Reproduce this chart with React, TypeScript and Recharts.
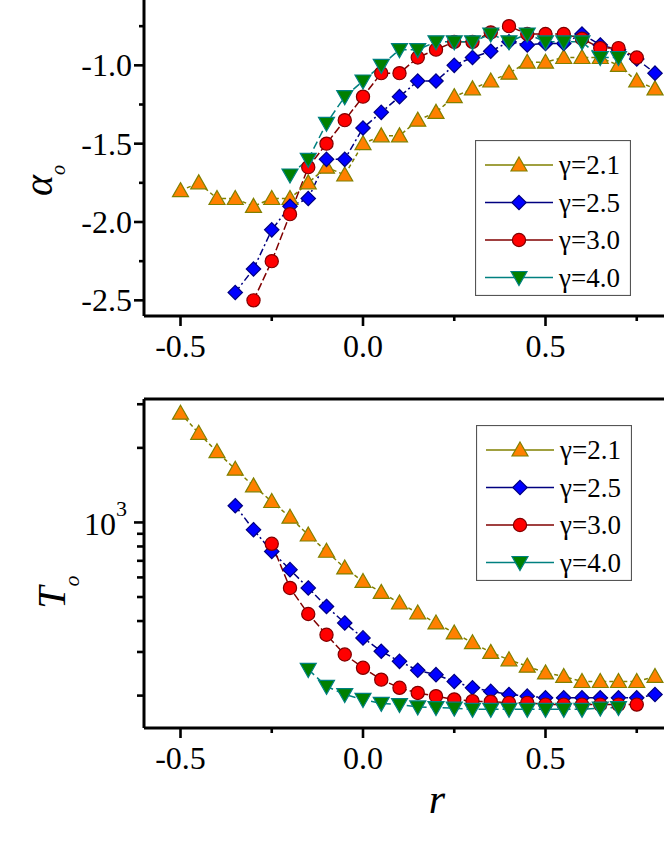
import { LineChart, Line, XAxis, YAxis, ReferenceLine, Legend } from 'recharts';

// r grid shared by all series (each series starts at some index of it)
const R = [-0.5, -0.45, -0.4, -0.35, -0.3, -0.25, -0.2, -0.15, -0.1, -0.05, 0, 0.05, 0.1, 0.15, 0.2, 0.25, 0.3, 0.35, 0.4, 0.45, 0.5, 0.55, 0.6, 0.65, 0.7, 0.75, 0.8];

const NAMES = ['γ=2.1', 'γ=2.5', 'γ=3.0', 'γ=4.0'];

// upper panel: alpha_o
const ALPHA_21 = [-1.8, -1.75, -1.85, -1.85, -1.9, -1.85, -1.85, -1.75, -1.65, -1.7, -1.5, -1.45, -1.45, -1.35, -1.3, -1.2, -1.15, -1.1, -1.05, -0.98, -0.98, -0.95, -0.95, -0.95, -1.0, -1.1, -1.15];
const ALPHA_25 = [-2.45, -2.3, -2.05, -1.9, -1.85, -1.6, -1.6, -1.4, -1.3, -1.2, -1.1, -1.1, -1.0, -0.95, -0.91, -0.85, -0.87, -0.86, -0.86, -0.8, -0.87, -0.9, -0.96, -1.05];
const ALPHA_30 = [-2.5, -2.25, -1.95, -1.65, -1.5, -1.35, -1.2, -1.05, -1.05, -0.95, -0.9, -0.85, -0.85, -0.79, -0.75, -0.8, -0.8, -0.8, -0.83, -0.89, -0.89, -0.95];
const ALPHA_40 = [-1.7, -1.6, -1.37, -1.2, -1.1, -1.0, -0.9, -0.9, -0.85, -0.85, -0.85, -0.8, -0.85, -0.8, -0.85, -0.85, -0.85, -0.95, -0.95];
const ALPHA_START = [0, 3, 4, 6];

// lower panel: T_o (log axis)
const T_21 = [2760, 2290, 1930, 1640, 1405, 1215, 1050, 890, 765, 655, 578, 522, 473, 431, 393, 358, 327, 299, 279, 263, 247, 239, 228, 228, 228, 228, 239];
const T_25 = [1168, 935, 764, 645, 544, 458, 393, 342, 302, 275, 253, 243, 228, 215, 208, 202, 199, 196, 196, 196, 196, 196, 196, 202];
const T_30 = [820, 544, 427, 352, 293, 259, 232, 215, 205, 199, 193, 190, 189, 187, 187, 184, 184, 184, 184, 184, 184];
const T_40 = [255, 218, 202, 193, 186, 184, 180, 179, 178, 176, 176, 176, 176, 176, 176, 176, 178, 179];
const T_START = [0, 3, 5, 7];

const X_TICKS = [-0.5, -0.25, 0, 0.25, 0.5, 0.75, 1.0];
const X_LABELS = [-0.5, 0, 0.5];
const ALPHA_TICKS = [-2.5, -2.25, -2.0, -1.75, -1.5, -1.25, -1.0, -0.75, -0.5];
const ALPHA_LABELS = [-2.5, -2.0, -1.5, -1.0];
const T_TICKS = [200, 300, 400, 500, 600, 700, 800, 900, 1000, 2000, 3000];

const STYLES = [
  { kind: 'up', fill: '#FF8000', stroke: '#808000', dash: '4 3' },
  { kind: 'diamond', fill: '#0000FF', stroke: '#000080', dash: '7 3 2 3' },
  { kind: 'circle', fill: '#FF0000', stroke: '#800000', dash: '8 3' },
  { kind: 'down', fill: '#008000', stroke: '#008080', dash: '8 4' },
];

const FONT = 'Liberation Serif, serif';
const txt = { fontFamily: FONT, fill: '#000' };

const zip = (start: number, vals: number[]) => vals.map((v, i) => ({ r: R[start + i], v }));

function Marker({ cx, cy, kind, fill, stroke }: any) {
  if (cx == null || cy == null) return null;
  const common = { fill, stroke, strokeWidth: 1.2 };
  if (kind === 'circle') return <circle cx={cx} cy={cy} r={6.6} {...common} />;
  if (kind === 'diamond')
    return <polygon points={`${cx},${cy - 7.2} ${cx + 7.2},${cy} ${cx},${cy + 7.2} ${cx - 7.2},${cy}`} {...common} />;
  if (kind === 'up')
    return <polygon points={`${cx},${cy - 8} ${cx + 8},${cy + 6} ${cx - 8},${cy + 6}`} {...common} />;
  return <polygon points={`${cx},${cy + 8} ${cx + 8},${cy - 6} ${cx - 8},${cy - 6}`} {...common} />;
}

const isHalf = (v: number) => Math.abs(v * 2 - Math.round(v * 2)) < 1e-6;

function XTick({ x, y, payload }: any) {
  const major = isHalf(payload.value);
  return (
    <g>
      <line x1={x} x2={x} y1={y} y2={y + (major ? 10 : 5)} stroke="#000" strokeWidth={2.6} />
      {X_LABELS.includes(payload.value) && (
        <text x={x} y={y + 41} textAnchor="middle" fontSize={32} style={txt}>
          {payload.value.toFixed(1)}
        </text>
      )}
    </g>
  );
}

function AlphaTick({ x, y, payload }: any) {
  const major = isHalf(payload.value);
  return (
    <g>
      <line x1={x} x2={x - (major ? 10 : 5)} y1={y} y2={y} stroke="#000" strokeWidth={2.6} />
      {ALPHA_LABELS.includes(payload.value) && (
        <text x={x - 12} y={y + 11} textAnchor="end" fontSize={32} style={txt}>
          {payload.value.toFixed(1)}
        </text>
      )}
    </g>
  );
}

function LogTick({ x, y, payload }: any) {
  const major = payload.value === 1000;
  return (
    <g>
      <line x1={x} x2={x - (major ? 10 : 7)} y1={y} y2={y} stroke="#000" strokeWidth={2.6} />
      {major && (
        <text x={x - 17} y={y + 13} textAnchor="end" fontSize={32} style={txt}>
          10<tspan fontSize={22} dy={-19}>3</tspan>
        </text>
      )}
    </g>
  );
}

function LegendBox({ payload }: any) {
  return (
    <svg width={156} height={156} style={{ display: 'block' }}>
      <rect x={0.5} y={0.5} width={155} height={155} fill="#fff" stroke="#555" strokeWidth={1.2} />
      {(payload || []).map((p: any, i: number) => {
        const s = STYLES[NAMES.indexOf(p.value)] || STYLES[i];
        const y = 25 + i * 37.5;
        return (
          <g key={p.value}>
            <line x1={10} x2={78} y1={y} y2={y} stroke={s.stroke} strokeWidth={1.6} />
            <Marker cx={44} cy={y} kind={s.kind} fill={s.fill} stroke={s.stroke} />
            <text x={84} y={y + 9} fontSize={27} style={txt}>
              {p.value}
            </text>
          </g>
        );
      })}
    </svg>
  );
}

const axisLine = { stroke: '#000', strokeWidth: 3 };

function renderSeries(sets: { r: number; v: number }[][]) {
  return sets.map((d, i) => {
    const s = STYLES[i];
    return (
      <Line
        key={NAMES[i]}
        data={d}
        dataKey="v"
        name={NAMES[i]}
        stroke={s.stroke}
        strokeWidth={1.5}
        strokeDasharray={s.dash}
        isAnimationActive={false}
        activeDot={false}
        dot={(props: any) => <Marker key={props.index} cx={props.cx} cy={props.cy} kind={s.kind} fill={s.fill} stroke={s.stroke} />}
      />
    );
  });
}

function AlphaPanel() {
  const sets = [ALPHA_21, ALPHA_25, ALPHA_30, ALPHA_40].map((vals, i) => zip(ALPHA_START[i], vals));
  return (
    <LineChart width={760} height={409} margin={{ top: 20, right: 32, bottom: 0, left: 64 }}>
      <XAxis
        type="number"
        dataKey="r"
        domain={[-0.6, 1.0]}
        allowDataOverflow
        ticks={X_TICKS}
        interval={0}
        height={60}
        tickSize={0}
        tickMargin={0}
        tickLine={false}
        axisLine={axisLine}
        tick={(p: any) => <XTick {...p} />}
      />
      <YAxis
        type="number"
        domain={[-2.6, -0.5]}
        allowDataOverflow
        ticks={ALPHA_TICKS}
        interval={0}
        width={80}
        tickSize={0}
        tickMargin={0}
        tickLine={false}
        axisLine={axisLine}
        tick={(p: any) => <AlphaTick {...p} />}
        label={{
          content: () => (
            <text transform="rotate(-90, 52, 213.5)" x={52} y={213.5} textAnchor="middle" fontStyle="italic" fontSize={40} style={txt}>
              α<tspan fontSize={20} dy={13}>o</tspan>
            </text>
          ),
        }}
      />
      <ReferenceLine y={-0.5} stroke="#000" strokeWidth={3} ifOverflow="visible" />
      <ReferenceLine x={1.0} stroke="#000" strokeWidth={3} ifOverflow="visible" />
      {renderSeries(sets)}
      <Legend
        layout="vertical"
        align="center"
        verticalAlign="middle"
        wrapperStyle={{ left: 475, top: 173, width: 156, height: 156 }}
        content={(p: any) => <LegendBox {...p} />}
      />
    </LineChart>
  );
}

function TPanel() {
  const sets = [T_21, T_25, T_30, T_40].map((vals, i) => zip(T_START[i], vals));
  return (
    <LineChart width={760} height={460} margin={{ top: 20, right: 32, bottom: 0, left: 64 }}>
      <XAxis
        type="number"
        dataKey="r"
        domain={[-0.6, 1.0]}
        allowDataOverflow
        ticks={X_TICKS}
        interval={0}
        height={111}
        tickSize={0}
        tickMargin={0}
        tickLine={false}
        axisLine={axisLine}
        tick={(p: any) => <XTick {...p} />}
        label={{
          content: () => (
            <text x={437} y={434} textAnchor="middle" fontStyle="italic" fontSize={42} style={txt}>
              r
            </text>
          ),
        }}
      />
      <YAxis
        type="number"
        scale="log"
        domain={[148, 3150]}
        allowDataOverflow
        ticks={T_TICKS}
        interval={0}
        width={80}
        tickSize={0}
        tickMargin={0}
        tickLine={false}
        axisLine={axisLine}
        tick={(p: any) => <LogTick {...p} />}
        label={{
          content: () => (
            <text transform="rotate(-90, 65, 213)" x={65} y={213} textAnchor="middle" fontStyle="italic" fontSize={40} style={txt}>
              T<tspan fontSize={22} dy={14}>o</tspan>
            </text>
          ),
        }}
      />
      <ReferenceLine y={3150} stroke="#000" strokeWidth={3} ifOverflow="visible" />
      <ReferenceLine x={1.0} stroke="#000" strokeWidth={3} ifOverflow="visible" />
      {renderSeries(sets)}
      <Legend
        layout="vertical"
        align="center"
        verticalAlign="middle"
        wrapperStyle={{ left: 476, top: 46, width: 156, height: 156 }}
        content={(p: any) => <LegendBox {...p} />}
      />
    </LineChart>
  );
}

export default function App() {
  return (
    <div style={{ position: 'absolute', left: 0, top: 0, width: 664, height: 860, overflow: 'hidden', background: '#fff' }}>
      <div style={{ position: 'absolute', left: 0, top: -33 }}>
        <AlphaPanel />
      </div>
      <div style={{ position: 'absolute', left: 0, top: 379 }}>
        <TPanel />
      </div>
    </div>
  );
}
